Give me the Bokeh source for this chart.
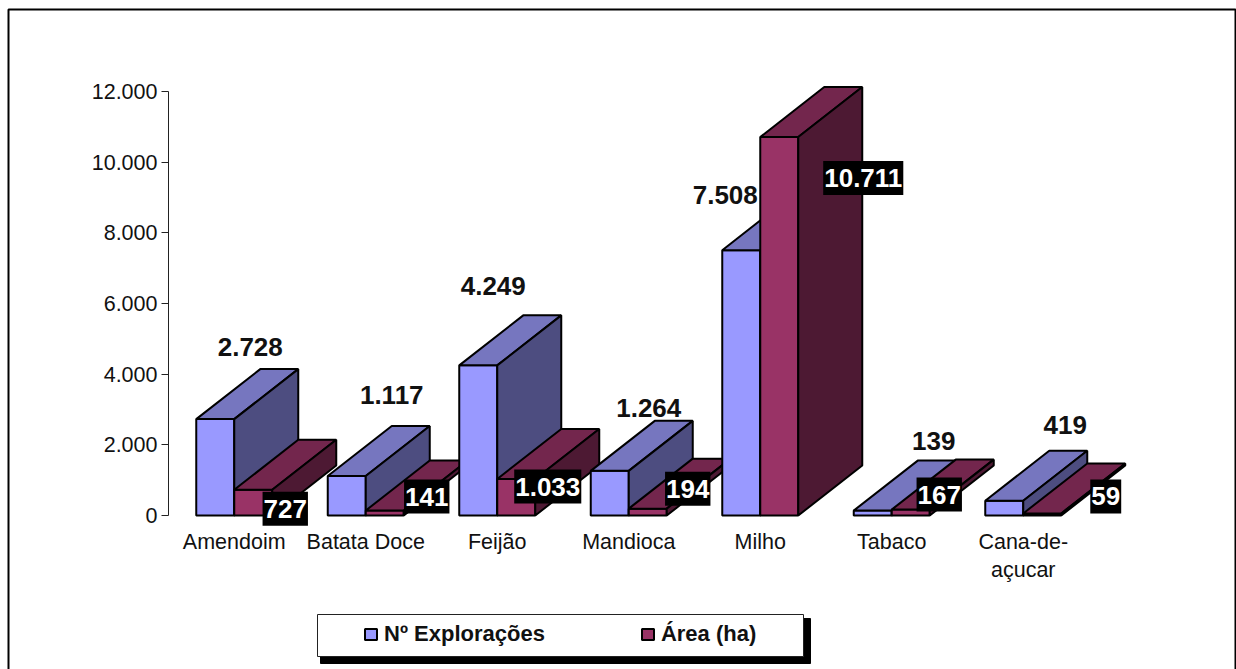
from bokeh.plotting import figure
from bokeh.models import Range1d, FixedTicker, BoxAnnotation, Legend, LegendItem, ColumnDataSource
from bokeh.core.properties import value
from bokeh.embed import file_html
from bokeh.resources import INLINE

categories = ["Amendoim", "Batata Doce", "Feijão", "Mandioca", "Milho", "Tabaco", "Cana-de-\naçucar"]
exploracoes = [2728, 1117, 4249, 1264, 7508, 139, 419]
area = [727, 141, 1033, 194, 10711, 167, 59]
labels_exploracoes = ["2.728", "1.117", "4.249", "1.264", "7.508", "139", "419"]
labels_area = ["727", "141", "1.033", "194", "10.711", "167", "59"]
y_ticks = [0, 2000, 4000, 6000, 8000, 10000, 12000]
y_tick_labels = ["0", "2.000", "4.000", "6.000", "8.000", "10.000", "12.000"]
series_names = ["Nº Explorações", "Área (ha)"]

# label nudges in px relative to the top-centre of each bar front
exp_dx = [35, 45, 15, 39, -16, 61, 61]
exp_dy = [-72, -81, -79, -63, -55, -70, -76]
area_dx = [32, 42, 31.5, 40, 84, 28.5, 63.5]
area_dy = [19, -14, 7.5, -20, 41, -15, -17]

W, H = 1236, 669
AXIS_X, BASE_Y = 168, 515
PX_PER_VALUE = 424 / 12000
CAT_PX = 131.5
bar_w = 38 / CAT_PX
depth_x = 64 / CAT_PX
depth_y = 50 / PX_PER_VALUE

COLORS = [("#9999FF", "#7676BF", "#4D4D80"), ("#993366", "#73264D", "#4D1933")]

p = figure(width=W, height=H, output_backend="svg", toolbar_location=None,
           x_range=Range1d(-AXIS_X / CAT_PX, (W - AXIS_X) / CAT_PX),
           y_range=Range1d(-(H - BASE_Y) / PX_PER_VALUE, BASE_Y / PX_PER_VALUE),
           min_border=0, outline_line_color=None)
p.grid.visible = False
p.background_fill_color = "white"

ya = p.yaxis[0]
ya.fixed_location = 0
ya.ticker = FixedTicker(ticks=y_ticks)
ya.major_label_overrides = dict(zip(y_ticks, y_tick_labels))
ya.bounds = (0, 12000)
ya.major_tick_out = 7
ya.major_tick_in = 0
ya.minor_tick_line_color = None
ya.axis_line_color = "#222222"
ya.major_tick_line_color = "#222222"
ya.major_label_text_font = "Liberation Sans"
ya.major_label_text_font_size = "21.5px"
ya.major_label_text_color = "#111111"
ya.major_label_standoff = 4

centers = [i + 0.5 for i in range(len(categories))]
xa = p.xaxis[0]
xa.fixed_location = 0
xa.ticker = FixedTicker(ticks=centers)
xa.major_label_overrides = dict(zip(centers, categories))
xa.axis_line_color = None
xa.major_tick_line_color = None
xa.minor_tick_line_color = None
xa.major_label_text_font = "Liberation Sans"
xa.major_label_text_font_size = "21.5px"
xa.major_label_text_color = "#111111"
xa.major_label_standoff = 8


def screen_box(left, right, top, bottom, **kw):
    # arguments are measured from the page top; Bokeh's screen y runs from the bottom
    return BoxAnnotation(left=left, right=right, top=H - top, bottom=H - bottom,
                         left_units="screen", right_units="screen", top_units="screen", bottom_units="screen", **kw)


# chart frame, then legend shadow and box
p.add_layout(screen_box(8, 1235, 9, H + 20, fill_alpha=0, line_color="black", line_alpha=1, line_width=2, level="underlay"))
p.add_layout(screen_box(320, 810, 618, 663, fill_color="black", fill_alpha=1, line_color="black", line_alpha=1))
p.add_layout(screen_box(317, 803, 614, 656, fill_color="white", fill_alpha=1, line_color="#222222", line_alpha=1, line_width=1))


def faces(left, v):
    right = left + bar_w
    front = ([left, right, right, left], [0, 0, v, v])
    top = ([left, right, right + depth_x, left + depth_x], [v, v, v + depth_y, v + depth_y])
    side = ([right, right + depth_x, right + depth_x, right], [0, depth_y, v + depth_y, v])
    return front, top, side


legend_renderers = []
for c, ve, va in zip(centers, exploracoes, area):
    for s, (left, v) in enumerate(((c - bar_w, ve), (c, va))):
        polys = faces(left, v)
        r = p.patches(xs=[f[0] for f in polys], ys=[f[1] for f in polys],
                      fill_color=list(COLORS[s]), line_color="black", line_width=2)
        if len(legend_renderers) < 2:
            legend_renderers.append(r)

exp_src = ColumnDataSource(dict(x=[c - bar_w / 2 for c in centers], y=exploracoes, t=labels_exploracoes,
                                dx=exp_dx, dy=exp_dy))
p.text(x="x", y="y", text="t", source=exp_src, x_offset="dx", y_offset="dy",
       text_font=value("Liberation Sans"), text_font_style="bold", text_font_size="26px",
       text_align="center", text_baseline="middle", text_color="#111111")

area_src = ColumnDataSource(dict(x=[c + bar_w / 2 for c in centers], y=area, t=labels_area,
                                 dx=area_dx, dy=area_dy))
p.text(x="x", y="y", text="t", source=area_src, x_offset="dx", y_offset="dy",
       text_font=value("Liberation Sans"), text_font_style="bold", text_font_size="26px",
       text_align="center", text_baseline="middle", text_color="white",
       background_fill_color="black", padding=(1, 8))

legend = Legend(items=[LegendItem(label=series_names[i], renderers=[legend_renderers[i]], index=0) for i in range(2)],
                orientation="horizontal", location=(363, 22), padding=0, margin=0, spacing=95,
                label_standoff=6, glyph_width=15, glyph_height=14,
                label_text_font="Liberation Sans", label_text_font_style="bold", label_text_font_size="22px",
                label_text_color="#111111", background_fill_alpha=0, border_line_color=None)
p.add_layout(legend, "center")

html = file_html(p, INLINE)
open("out.html", "w").write(html)
